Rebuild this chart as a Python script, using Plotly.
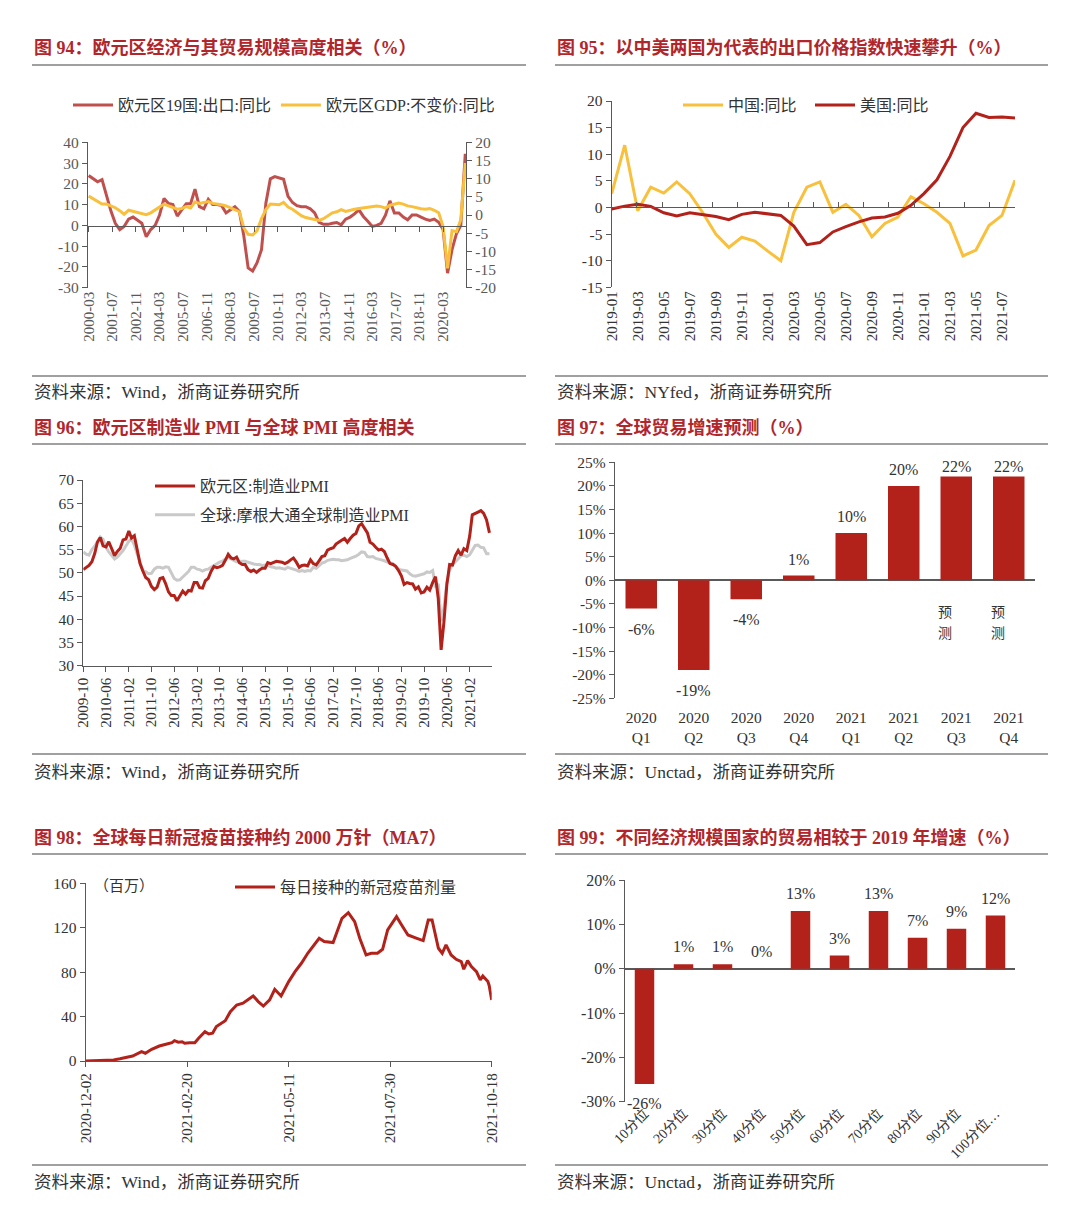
import pandas as pd
import plotly.graph_objects as go

W, H = 1080, 1224
def px(x): return x / W
def py(y): return 1 - y / H

SERIF = "Liberation Serif, Noto Sans CJK SC"

# ---------------- data: 图94 ----------------
q94_dates = pd.date_range("2000-03-01", "2021-06-01", freq="3MS").strftime("%Y-%m-%d").tolist()
export_yoy = [24, 22.5, 21, 22, 14, 7, 1, -2, -0.5, 3,
              4, 2.5, 1, -5.5, -2, 0, 5, 13, 10.5, 10,
              4.5, 7.5, 10.4, 10.4, 17.4, 9, 8, 12.6, 10, 10,
              9.5, 6, 7.5, 9, 6.7, -5, -20.5, -22, -18, -11.7,
              10.7, 22.4, 23.5, 23, 22.2, 14, 11, 9.5, 9, 9,
              8, 6, 1.5, 0.5, 0.5, 1, 1.4, 0.3, 3, 4,
              5.5, 7.5, 4.3, 2, -0.5, 0, 1, 5, 11.8, 6,
              6, 4, 2.7, 5, 5, 4, 3, 2.4, 3, 1.5,
              -2, -23, -11.7, -4, 0, 34.5]
gdp_yoy = [5.2, 4.5, 3.8, 3.0, 3.0, 2.5, 2.0, 1.2, 0.2, 1.3,
           1.0, 0.8, 0.5, 0.1, 0.6, 1.3, 2.2, 3.0, 2.6, 2.2,
           1.6, 1.8, 2.3, 1.9, 3.6, 3.2, 3.5, 3.7, 3.2, 3.1,
           2.8, 2.5, 2.0, 1.4, 0.9, -3.5, -5.3, -5.5, -4.3, -1.0,
           1.5, 3.0, 3.0, 2.8, 3.5, 2.2, 1.6, 0.8, -0.2, -0.7,
           -0.9, -1.2, -1.5, -1.0, -0.2, 0.6, 0.9, 1.5, 1.0, 1.4,
           1.6, 1.8, 2.0, 2.2, 2.3, 2.5, 2.3, 1.9, 2.7, 3.0,
           3.3, 3.0, 2.5, 2.3, 1.9, 1.7, 1.6, 1.8, 1.3, 0.6,
           -3.2, -14.7, -4.3, -4.6, -1.3, 14.3]
ticks94 = ["2000-03", "2001-07", "2002-11", "2004-03", "2005-07", "2006-11", "2008-03", "2009-07",
           "2010-11", "2012-03", "2013-07", "2014-11", "2016-03", "2017-07", "2018-11", "2020-03"]
left94 = [-30, -20, -10, 0, 10, 20, 30, 40]
right94 = [-20, -15, -10, -5, 0, 5, 10, 15, 20]

# ---------------- data: 图95 ----------------
months95 = pd.date_range("2019-01-01", periods=32, freq="MS").strftime("%Y-%m").tolist()
china_yoy = [2.6, 11.7, -0.6, 3.8, 2.7, 4.8, 2.6, -1.0, -5.0, -7.5,
             -5.6, -6.3, -8.2, -10.0, -0.9, 3.8, 4.8, -0.9, 0.6, -1.5,
             -5.5, -3.0, -1.8, 2.0, 0.7, -0.9, -3.0, -9.1, -8.0, -3.4,
             -1.5, 5.1]
us_yoy = [-0.3, 0.25, 0.6, 0.2, -1.0, -1.6, -1.0, -1.4, -1.7, -2.3,
          -1.3, -0.9, -1.2, -1.5, -3.5, -7.0, -6.6, -4.6, -3.6, -2.7,
          -2.0, -1.8, -1.1, 0.4, 2.6, 5.2, 9.6, 15.0, 17.7, 16.9,
          17.0, 16.8]
y95 = [-15, -10, -5, 0, 5, 10, 15, 20]

# ---------------- data: 图96 ----------------
months96 = pd.date_range("2009-10-01", "2021-09-01", freq="MS").strftime("%Y-%m-%d").tolist()
ez_pmi = [50.7, 51.2, 51.6,
          52.4, 54.2, 56.6, 57.6, 55.8, 55.6, 56.7, 55.1, 53.7, 54.6, 55.3, 57.1,
          57.3, 59.0, 57.5, 58.0, 54.6, 52.0, 50.4, 49.0, 48.5, 47.1, 46.4, 46.9,
          48.8, 49.0, 47.7, 45.9, 45.1, 45.1, 44.0, 45.1, 46.1, 45.4, 46.2, 46.1,
          47.9, 47.9, 46.8, 46.7, 48.3, 48.8, 50.3, 51.4, 51.1, 51.3, 51.6, 52.7,
          54.0, 53.2, 53.0, 53.4, 52.2, 51.8, 51.8, 50.7, 50.3, 50.6, 50.1, 50.6,
          51.0, 51.0, 52.2, 52.0, 52.2, 52.5, 52.4, 52.3, 52.0, 52.3, 52.8, 53.2,
          52.3, 51.2, 51.6, 51.7, 51.5, 52.8, 52.0, 51.7, 52.6, 53.5, 53.7, 54.9,
          55.2, 55.4, 56.2, 56.7, 57.0, 57.4, 56.6, 57.4, 58.1, 58.5, 60.1, 60.6,
          59.6, 58.6, 56.6, 56.2, 55.5, 54.9, 55.1, 54.6, 53.2, 52.0, 51.8, 51.4,
          50.5, 49.3, 47.5, 47.9, 47.7, 47.6, 46.5, 47.0, 45.7, 45.9, 46.9, 46.3,
          47.9, 49.2, 44.5, 33.4, 39.4, 47.4, 51.8, 51.7, 53.7, 54.8, 53.8, 55.2,
          54.8, 57.9, 62.5, 62.9, 63.1, 63.4, 62.8, 61.4, 58.6]
global_pmi = [54.5, 54.0, 53.8,
              55.0, 55.8, 56.8, 57.7, 57.2, 55.5, 54.5, 53.7, 53.0, 53.4, 54.0, 54.8,
              55.8, 56.8, 57.3, 56.0, 54.1, 52.0, 50.5, 50.2, 49.8, 49.9, 50.8, 51.2,
              51.2, 51.0, 51.3, 51.2, 50.0, 48.8, 48.4, 48.5, 49.1, 49.6, 50.3, 51.2,
              51.2, 50.8, 50.7, 50.4, 50.7, 50.8, 51.2, 51.6, 52.0, 52.3, 52.5, 53.0,
              53.3, 53.0, 52.6, 52.4, 52.3, 52.5, 52.5, 52.3, 52.0, 51.9, 51.8, 51.8,
              51.6, 51.7, 51.6, 51.3, 51.2, 51.0, 51.1, 51.0, 50.8, 51.2, 51.0, 50.9,
              50.6, 50.3, 50.5, 50.3, 50.5, 50.4, 51.2, 51.0, 51.5, 52.1, 52.3, 52.7,
              52.8, 52.9, 52.8, 52.8, 52.6, 52.7, 52.8, 53.1, 53.3, 53.6, 54.0, 54.5,
              54.4, 53.5, 53.4, 53.5, 53.1, 53.0, 52.8, 52.6, 52.3, 52.1, 52.0, 51.5,
              50.8, 50.6, 50.5, 50.4, 49.8, 49.4, 49.3, 49.5, 49.7, 49.8, 50.2, 50.1,
              50.5, 47.2, 47.6, 39.6, 42.4, 47.9, 50.6, 51.8, 52.4, 53.0, 53.7, 53.8,
              53.5, 53.9, 55.0, 55.9, 56.0, 55.5, 55.4, 54.1, 54.1]
ticks96 = ["2009-10", "2010-06", "2011-02", "2011-10", "2012-06", "2013-02", "2013-10", "2014-06",
           "2015-02", "2015-10", "2016-06", "2017-02", "2017-10", "2018-06", "2019-02", "2019-10",
           "2020-06", "2021-02"]
y96 = [30, 35, 40, 45, 50, 55, 60, 65, 70]

# ---------------- data: 图97 ----------------
quarters97 = ["2020<br>Q1", "2020<br>Q2", "2020<br>Q3", "2020<br>Q4",
              "2021<br>Q1", "2021<br>Q2", "2021<br>Q3", "2021<br>Q4"]
trade_growth = [-6, -19, -4, 1, 10, 20, 22, 22]
forecast_q = ["2021<br>Q3", "2021<br>Q4"]
y97 = [-25, -20, -15, -10, -5, 0, 5, 10, 15, 20, 25]

# ---------------- data: 图98 ----------------
dates98 = ["2020-12-02", "2020-12-13", "2020-12-24", "2020-12-29", "2021-01-03", "2021-01-08",
           "2021-01-15", "2021-01-18", "2021-01-23", "2021-01-29", "2021-02-04", "2021-02-08",
           "2021-02-10", "2021-02-13", "2021-02-16", "2021-02-18", "2021-02-22", "2021-02-26",
           "2021-03-01", "2021-03-06", "2021-03-09", "2021-03-12", "2021-03-15", "2021-03-19",
           "2021-03-22", "2021-03-26", "2021-03-31", "2021-04-05", "2021-04-09", "2021-04-13",
           "2021-04-17", "2021-04-21", "2021-04-26", "2021-04-30", "2021-05-05", "2021-05-11",
           "2021-05-16", "2021-05-21", "2021-05-26", "2021-06-01", "2021-06-04", "2021-06-08",
           "2021-06-15", "2021-06-22", "2021-06-27", "2021-07-02", "2021-07-06", "2021-07-11",
           "2021-07-15", "2021-07-20", "2021-07-24", "2021-07-28", "2021-08-04", "2021-08-08",
           "2021-08-13", "2021-08-20", "2021-08-25", "2021-08-29", "2021-09-01", "2021-09-06",
           "2021-09-09", "2021-09-12", "2021-09-16", "2021-09-20", "2021-09-24", "2021-09-26",
           "2021-09-29", "2021-10-02", "2021-10-06", "2021-10-09", "2021-10-11", "2021-10-15",
           "2021-10-16", "2021-10-18"]
doses = [0, 0.3, 1, 2, 3.3, 4.5,
         8.4, 7, 10.5, 13.5, 15.3, 16.5,
         18.3, 17, 17.4, 16, 16.5, 16.5,
         20.4, 26.4, 24.3, 25, 31, 34,
         36.3, 44.4, 50.4, 52, 55, 58.6,
         53.5, 49.5, 55, 64.6, 58.6, 71.5,
         80.5, 88, 97, 106, 110.5, 107.5,
         106.6, 128.5, 133.6, 125.5, 110.5, 95.5,
         97, 97, 100.6, 118, 130, 122.5,
         113.5, 110.5, 108.4, 127, 127, 101.5,
         97, 104.5, 95.5, 91.6, 89.5, 82.6,
         90.4, 85, 80.5, 73, 76.6, 71.5,
         68, 55]
ticks98 = ["2020-12-02", "2021-02-20", "2021-05-11", "2021-07-30", "2021-10-18"]
y98 = [0, 40, 80, 120, 160]

# ---------------- data: 图99 ----------------
pct99 = ["10分位", "20分位", "30分位", "40分位", "50分位", "60分位", "70分位", "80分位", "90分位", "100分位…"]
growth99 = [-26, 1, 1, 0, 13, 3, 13, 7, 9, 12]
y99 = [-30, -20, -10, 0, 10, 20]

# ---------------- colours ----------------
RED = "#B2221B"
RED94 = "#C0504D"
YELLOW = "#F8C03D"
GRAY = "#C9C9C9"
TITLE_RED = "#B0262B"
AX = "#595959"

fig = go.Figure()

# 图94
fig.add_trace(go.Scatter(x=q94_dates, y=gdp_yoy, name="欧元区GDP:不变价:同比", xaxis="x", yaxis="y2",
                         mode="lines", line=dict(color=YELLOW, width=3), legend="legend", legendrank=2))
fig.add_trace(go.Scatter(x=q94_dates, y=export_yoy, name="欧元区19国:出口:同比", xaxis="x", yaxis="y",
                         mode="lines", line=dict(color=RED94, width=3), legend="legend", legendrank=1))
fig.add_trace(go.Scatter(x=[t + "-01" for t in ticks94], y=[0] * len(ticks94), xaxis="x2", yaxis="y",
                         mode="markers", marker=dict(opacity=0), showlegend=False, hoverinfo="skip"))

# 图95
fig.add_trace(go.Scatter(x=months95, y=china_yoy, name="中国:同比", xaxis="x3", yaxis="y3",
                         mode="lines", line=dict(color=YELLOW, width=3), legend="legend2"))
fig.add_trace(go.Scatter(x=months95, y=us_yoy, name="美国:同比", xaxis="x3", yaxis="y3",
                         mode="lines", line=dict(color=RED, width=3), legend="legend2"))
fig.add_trace(go.Scatter(x=[0], y=[0], xaxis="x4", yaxis="y3",
                         mode="markers", marker=dict(opacity=0), showlegend=False, hoverinfo="skip"))

# 图96
fig.add_trace(go.Scatter(x=months96, y=global_pmi, name="全球:摩根大通全球制造业PMI", xaxis="x5", yaxis="y5",
                         mode="lines", line=dict(color=GRAY, width=3), legend="legend3",
                         legendgroup="g", legendrank=2))
fig.add_trace(go.Scatter(x=months96, y=ez_pmi, name="欧元区:制造业PMI", xaxis="x5", yaxis="y5",
                         mode="lines", line=dict(color=RED, width=3), legend="legend3",
                         legendgroup="e", legendrank=1))

# 图97
fig.add_trace(go.Bar(x=quarters97, y=trade_growth, xaxis="x6", yaxis="y6", marker_color=RED,
                     width=0.6, showlegend=False))

# 图98
fig.add_trace(go.Scatter(x=dates98, y=doses, name="每日接种的新冠疫苗剂量", xaxis="x7", yaxis="y7",
                         mode="lines", line=dict(color=RED, width=3), legend="legend4"))

# 图99
fig.add_trace(go.Bar(x=pct99, y=growth99, xaxis="x8", yaxis="y8", marker_color=RED,
                     width=0.5, showlegend=False))

tickfont = dict(family=SERIF, size=15, color="#333")
base = dict(showgrid=False, zeroline=False, linecolor=AX, linewidth=1.3, tickcolor=AX,
            tickwidth=1.3, ticklen=5, tickfont=tickfont, automargin=False)

def ax(**kw):
    d = dict(base)
    d.update(kw)
    return d

legfont = dict(family=SERIF, size=16, color="#333")

layout = dict(
    template="none",
    width=W, height=H, margin=dict(l=0, r=0, t=0, b=0, pad=0, autoexpand=False),
    paper_bgcolor="white", plot_bgcolor="rgba(0,0,0,0)",
    font=dict(family=SERIF, size=15, color="#333"),
    showlegend=True,
    # 94
    xaxis=ax(domain=[px(88), px(466)], anchor="y", type="date",
             range=["2000-02-16", "2021-06-16"], tickmode="array",
             tickvals=[t + "-01" for t in ticks94], ticktext=ticks94, tickangle=-90,
             showline=False, ticks="", tickfont=dict(family=SERIF, size=15, color=AX)),
    xaxis2=ax(overlaying="x", anchor="free", position=py(225.7), type="date",
              range=["2000-02-16", "2021-06-16"], tickmode="array",
              tickvals=[t + "-01" for t in ticks94], showticklabels=False,
              showline=True, ticks="outside"),
    yaxis=ax(domain=[py(287.7), py(142.3)], anchor="x", range=[-30, 40], tickmode="array",
             tickvals=left94, ticktext=[str(v) for v in left94], showline=True, ticks="outside",
             tickfont=dict(family=SERIF, size=15.5, color=AX)),
    yaxis2=ax(overlaying="y", side="right", anchor="x", range=[-20, 20], tickmode="array",
              tickvals=right94, ticktext=[str(v) for v in right94], showline=True, ticks="outside",
              tickfont=dict(family=SERIF, size=15.5, color=AX)),
    # 95
    xaxis3=ax(domain=[px(611.7), px(1015)], anchor="y3", type="category", tickmode="array",
              tickvals=months95[::2], ticktext=months95[::2], tickangle=-90,
              showline=False, ticks=""),
    xaxis4=ax(overlaying="x3", anchor="free", position=py(207), type="linear",
              range=[-0.5, 31.5], tickmode="array", tickvals=[k - 0.5 for k in range(0, 33, 2)],
              showticklabels=False, showline=True, ticks="inside"),
    yaxis3=ax(domain=[py(287.3), py(101)], anchor="x3", range=[-15, 20], tickmode="array",
              tickvals=y95, ticktext=[str(v) for v in y95], showline=True, ticks="outside",
              tickfont=dict(family=SERIF, size=15.5, color="#333")),
    # 96
    xaxis5=ax(domain=[px(83.3), px(491.7)], anchor="y5", type="date",
              range=["2009-10-01", "2021-09-25"], tickmode="array",
              tickvals=[t + "-01" for t in ticks96], ticktext=ticks96, tickangle=-90,
              showline=True, ticks="outside"),
    yaxis5=ax(domain=[py(665.7), py(480)], anchor="x5", range=[30, 70], tickmode="array",
              tickvals=y96, ticktext=[str(v) for v in y96], showline=True, ticks="outside",
              tickfont=dict(family=SERIF, size=15.5, color="#333")),
    # 97
    xaxis6=ax(domain=[px(615), px(1035)], anchor="y6", type="category", showline=False, ticks="",
              ticklabelstandoff=8, tickfont=dict(family=SERIF, size=15.5, color="#333")),
    yaxis6=ax(domain=[py(698.3), py(462.3)], anchor="x6", range=[-25, 25], tickmode="array",
              tickvals=y97, ticktext=[f"{v}%" for v in y97], showline=True, ticks="outside",
              zeroline=True, zerolinecolor=AX, zerolinewidth=1.5,
              tickfont=dict(family=SERIF, size=15.5, color="#333")),
    # 98
    xaxis7=ax(domain=[px(85.7), px(491.7)], anchor="y7", type="date",
              range=["2020-12-02", "2021-10-18"], tickmode="array", tickvals=ticks98,
              ticktext=ticks98, tickangle=-90, showline=True, ticks="outside"),
    yaxis7=ax(domain=[py(1061), py(883.3)], anchor="x7", range=[0, 160], tickmode="array",
              tickvals=y98, ticktext=[str(v) for v in y98], showline=True, ticks="outside",
              tickfont=dict(family=SERIF, size=15.5, color="#333")),
    # 99
    xaxis8=ax(domain=[px(625), px(1015)], anchor="y8", type="category", showline=False, ticks="",
              tickangle=-45, tickfont=dict(family=SERIF, size=14, color="#333")),
    yaxis8=ax(domain=[py(1101.7), py(880)], anchor="x8", range=[-30, 20], tickmode="array",
              tickvals=y99, ticktext=[f"{v}%" for v in y99], showline=True, ticks="outside",
              zeroline=True, zerolinecolor=AX, zerolinewidth=1.5,
              tickfont=dict(family=SERIF, size=16, color="#333")),
    legend=dict(orientation="h", x=px(68), y=py(105), xanchor="left", yanchor="middle",
                itemwidth=40, bgcolor="rgba(0,0,0,0)", font=legfont),
    legend2=dict(orientation="h", x=px(678), y=py(105), xanchor="left", yanchor="middle",
                 itemwidth=40, entrywidth=77, entrywidthmode="pixels",
                 bgcolor="rgba(0,0,0,0)", font=legfont),
    legend3=dict(orientation="v", x=px(150), y=py(469), xanchor="left", yanchor="top",
                 itemwidth=40, tracegroupgap=5, bgcolor="rgba(0,0,0,0)", font=legfont),
    legend4=dict(orientation="h", x=px(230), y=py(887), xanchor="left", yanchor="middle",
                 itemwidth=40, bgcolor="rgba(0,0,0,0)", font=legfont),
)
fig.update_layout(**layout)

# titles, separators, sources
titles = [
    (32, 48, "图 94：欧元区经济与其贸易规模高度相关（%）"),
    (555, 48, "图 95：以中美两国为代表的出口价格指数快速攀升（%）"),
    (32, 427, "图 96：欧元区制造业 PMI 与全球 PMI 高度相关"),
    (555, 427, "图 97：全球贸易增速预测（%）"),
    (32, 837, "图 98：全球每日新冠疫苗接种约 2000 万针（MA7）"),
    (555, 837, "图 99：不同经济规模国家的贸易相较于 2019 年增速（%）"),
]
sources = [
    (32, 392, "资料来源：Wind，浙商证券研究所"),
    (555, 392, "资料来源：NYfed，浙商证券研究所"),
    (32, 772, "资料来源：Wind，浙商证券研究所"),
    (555, 772, "资料来源：Unctad，浙商证券研究所"),
    (32, 1182, "资料来源：Wind，浙商证券研究所"),
    (555, 1182, "资料来源：Unctad，浙商证券研究所"),
]
annotations = []
for x, y, t in titles:
    annotations.append(dict(x=px(x), y=py(y), xref="paper", yref="paper", xanchor="left",
                            yanchor="middle", showarrow=False, text=f"<b>{t}</b>",
                            font=dict(family=SERIF, size=18, color=TITLE_RED)))
for x, y, t in sources:
    annotations.append(dict(x=px(x), y=py(y), xref="paper", yref="paper", xanchor="left",
                            yanchor="middle", showarrow=False, text=t,
                            font=dict(family=SERIF, size=17.5, color="#333")))

# bar value labels (outside end, Excel-like spacing; kept inside the plot top)
labfont = dict(family=SERIF, size=16, color="#333")
PX97 = 236.0 / 50   # pixels per % in 图97
for q, v in zip(quarters97, trade_growth):
    shift = min(16.5, (25 - v) * PX97 - 3.8) if v >= 0 else -20.5
    annotations.append(dict(x=q, y=v, xref="x6", yref="y6", yshift=shift, showarrow=False,
                            text=f"{v}%", font=labfont))
for c, v in zip(pct99, growth99):
    shift = 17.3 if v >= 0 else -20
    annotations.append(dict(x=c, y=v, xref="x8", yref="y8", yshift=shift, showarrow=False,
                            text=f"{v}%", font=labfont))

for q in forecast_q:
    annotations.append(dict(x=q, y=-6.8, xref="x6", yref="y6", xshift=-11, showarrow=False,
                            text="预", font=dict(family=SERIF, size=14, color="#333")))
    annotations.append(dict(x=q, y=-11.2, xref="x6", yref="y6", xshift=-11, showarrow=False,
                            text="测", font=dict(family=SERIF, size=14, color="#333")))
annotations.append(dict(x=px(92), y=py(886), xref="paper", yref="paper", xanchor="left",
                        yanchor="middle", showarrow=False, text="（百万）",
                        font=dict(family=SERIF, size=15, color="#333")))
fig.update_layout(annotations=annotations)

shapes = []
for x0, x1 in [(32, 526), (555, 1048)]:
    for y in [65, 376, 444, 754, 854, 1165]:
        shapes.append(dict(type="line", xref="paper", yref="paper", x0=px(x0), x1=px(x1),
                           y0=py(y), y1=py(y), line=dict(color="#808080", width=1.5)))
fig.update_layout(shapes=shapes)

fig.write_html("out.html", config={"displayModeBar": False},
               post_script="document.body.style.margin='0px';")
